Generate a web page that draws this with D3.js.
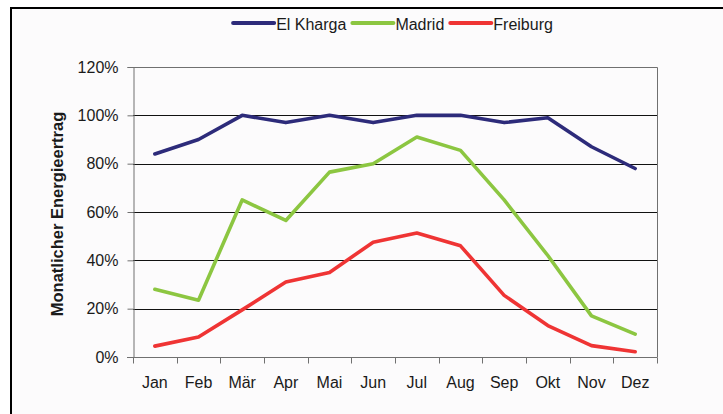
<!DOCTYPE html>
<html>
<head>
<meta charset="utf-8">
<script src="https://cdn.jsdelivr.net/npm/d3@7"></script>
<style>
  body { margin: 0; background: #fff; }
  text { font-family: Arial, "Liberation Sans", sans-serif; fill: #1a1a1a; }
</style>
</head>
<body>
<div class="chart"></div>
<script>
// data
const months = ["Jan", "Feb", "Mär", "Apr", "Mai", "Jun", "Jul", "Aug", "Sep", "Okt", "Nov", "Dez"];
const elKharga = [84, 90, 100, 97, 100, 97, 100, 100, 97, 99, 87, 78];
const madrid = [28, 23.5, 65, 56.5, 76.5, 80, 91, 85.5, 65, 42, 17, 9.5];
const freiburg = [4.5, 8.3, 19.5, 31, 35, 47.5, 51.3, 46, 25.5, 13, 4.7, 2.2];
const yTicks = [0, 20, 40, 60, 80, 100, 120];
const seriesNames = ["El Kharga", "Madrid", "Freiburg"];
const seriesColors = ["#2d2b7a", "#8cc641", "#ef3434"];

const w = 723;
const h = 414;
const margin = { top: 67, right: 66, bottom: 57, left: 133 };

const svg = d3.select(".chart")
  .append("svg")
  .attr("width", w)
  .attr("height", h);

// frame of the picture (runs off to the right and bottom)
svg.append("rect")
  .attr("x", 11)
  .attr("y", 8)
  .attr("width", w + 20)
  .attr("height", h + 20)
  .attr("fill", "#fcfbfc")
  .attr("stroke", "#000")
  .attr("stroke-width", 2);

const x = d3.scaleBand()
  .domain(months)
  .range([margin.left, w - margin.right])
  .padding(0);

const y = d3.scaleLinear()
  .domain([0, 120])
  .range([h - margin.bottom, margin.top]);

// gridlines
svg.append("g")
  .selectAll("line")
  .data(yTicks.filter(d => d > 0 && d < 120))
  .join("line")
  .attr("x1", margin.left)
  .attr("x2", w - margin.right)
  .attr("y1", d => Math.round(y(d)) + 0.5)
  .attr("y2", d => Math.round(y(d)) + 0.5)
  .attr("stroke", "#111")
  .attr("stroke-width", 1);

// plot border top/right
svg.append("path")
  .attr("d", `M${margin.left},${Math.round(y(120)) + 0.5}H${w - margin.right + 0.5}V${Math.round(y(0))}`)
  .attr("fill", "none")
  .attr("stroke", "#707070");

// y axis
const yAxis = svg.append("g")
  .attr("transform", `translate(${margin.left + 0.5},0)`)
  .call(d3.axisLeft(y).tickValues(yTicks).tickSize(6).tickPadding(9).tickFormat(d => d + "%"));
yAxis.select(".domain").attr("stroke", "#707070");
yAxis.selectAll(".tick line").attr("stroke", "#707070");
yAxis.selectAll("text").style("font-size", "16px").attr("fill", "#1a1a1a");

// x axis line + boundary ticks
const xBase = Math.round(y(0)) + 0.5;
const bounds = months.map(m => x(m)).concat([x.range()[1]]);
svg.append("line")
  .attr("x1", margin.left - 6)
  .attr("x2", w - margin.right + 0.5)
  .attr("y1", xBase)
  .attr("y2", xBase)
  .attr("stroke", "#707070");
svg.append("g")
  .selectAll("line")
  .data(bounds)
  .join("line")
  .attr("x1", d => Math.round(d) + 0.5)
  .attr("x2", d => Math.round(d) + 0.5)
  .attr("y1", xBase)
  .attr("y2", xBase + 6)
  .attr("stroke", "#707070");

// month labels
const xAxis = svg.append("g")
  .attr("transform", `translate(0,${xBase})`)
  .call(d3.axisBottom(x).tickSize(0).tickPadding(19));
xAxis.select(".domain").remove();
xAxis.selectAll("text").style("font-size", "16px").attr("fill", "#1a1a1a");

// y title
svg.append("text")
  .attr("transform", `translate(63,${(y(0) + y(120)) / 2 + 2}) rotate(-90)`)
  .attr("text-anchor", "middle")
  .style("font-size", "16.5px")
  .style("font-weight", "bold")
  .text("Monatlicher Energieertrag");

// lines
const line = d3.line()
  .x((d, i) => x(months[i]) + x.bandwidth() / 2)
  .y(d => y(d));

[elKharga, madrid, freiburg].forEach((s, i) => {
  svg.append("path")
    .datum(s)
    .attr("d", line)
    .attr("fill", "none")
    .attr("stroke", seriesColors[i])
    .attr("stroke-width", 3.6)
    .attr("stroke-linejoin", "round")
    .attr("stroke-linecap", "round");
});

// legend
const legend = svg.append("g");
let lx = 0;
seriesNames.forEach((name, i) => {
  const g = legend.append("g").attr("transform", `translate(${lx},0)`);
  g.append("line")
    .attr("x1", 0).attr("x2", 41)
    .attr("y1", 23).attr("y2", 23)
    .attr("stroke", seriesColors[i])
    .attr("stroke-width", 4)
    .attr("stroke-linecap", "round");
  const t = g.append("text")
    .attr("x", 43)
    .attr("y", 24)
    .attr("dy", "0.35em")
    .style("font-size", "16px")
    .text(name);
  lx += 43 + t.node().getComputedTextLength() + 6;
});
const legendWidth = lx - 6;
legend.attr("transform", `translate(${393 - legendWidth / 2},0)`);
</script>
</body>
</html>
